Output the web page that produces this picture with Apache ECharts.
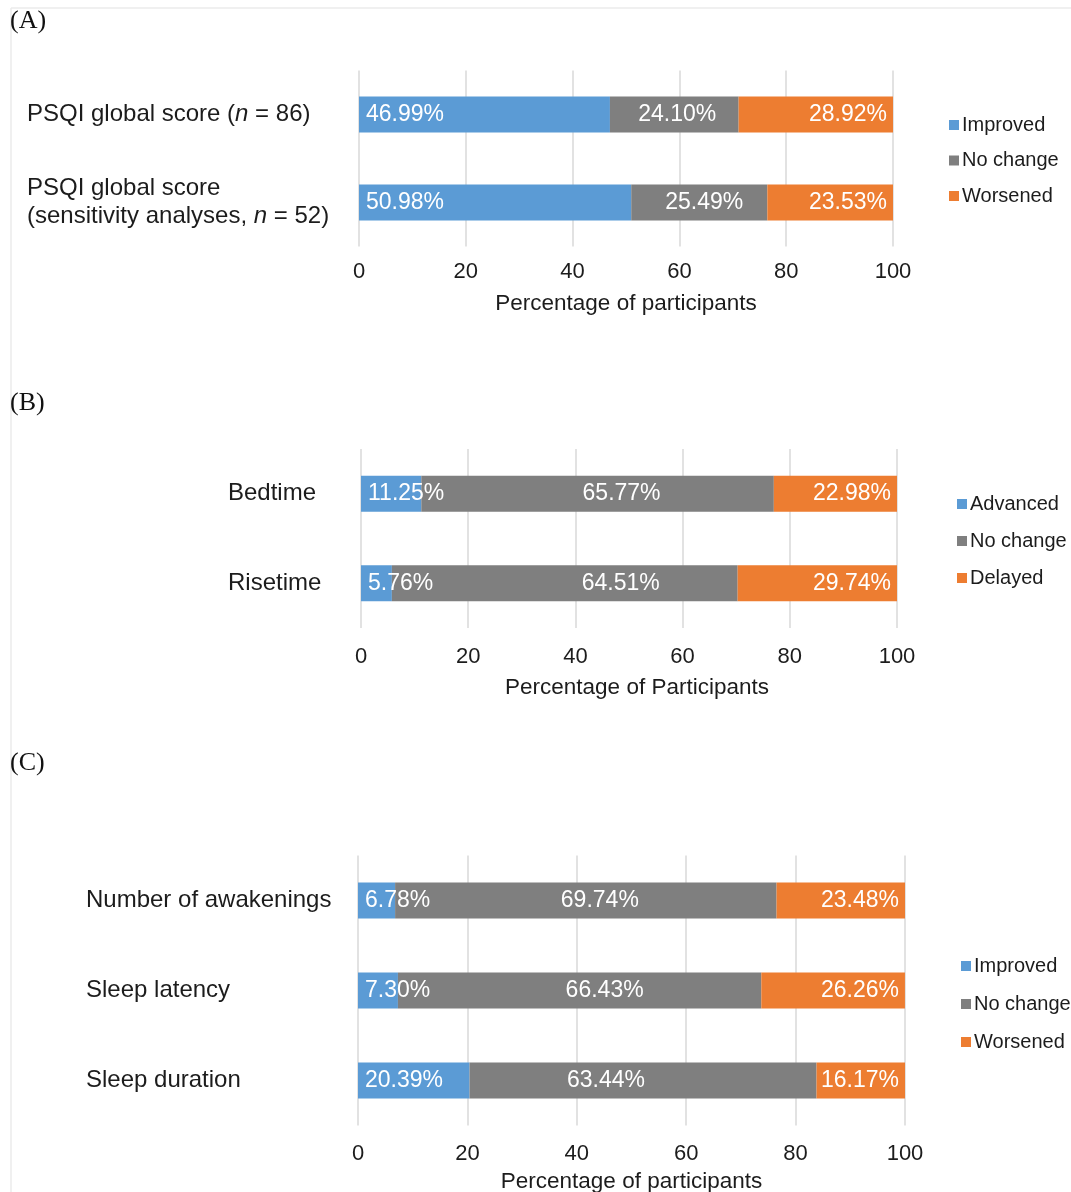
<!DOCTYPE html>
<html>
<head>
<meta charset="utf-8">
<script src="https://cdn.jsdelivr.net/npm/echarts@6/dist/echarts.min.js"></script>
<style>
  html, body { margin: 0; padding: 0; background: #ffffff; }
  #chart { width: 1071px; height: 1192px; }
</style>
</head>
<body>
<div id="chart"></div>
<script>
// ---- Panel A: PSQI global score ----
const catsA = ['PSQI global score (n = 86)', 'PSQI global score\n(sensitivity analyses, n = 52)'];
const improvedA = [46.99, 50.98];
const noChangeA = [24.10, 25.49];
const worsenedA = [28.92, 23.53];

// ---- Panel B: bedtime / risetime ----
const catsB = ['Bedtime', 'Risetime'];
const advancedB = [11.25, 5.76];
const noChangeB = [65.77, 64.51];
const delayedB = [22.98, 29.74];

// ---- Panel C: sleep components ----
const catsC = ['Number of awakenings', 'Sleep latency', 'Sleep duration'];
const improvedC = [6.78, 7.30, 20.39];
const noChangeC = [69.74, 66.43, 63.44];
const worsenedC = [23.48, 26.26, 16.17];

const xTicks = [0, 20, 40, 60, 80, 100];

// label nudges (px) for the middle segment text
const midShiftA = [3, 5];
const midShiftB = [24, 56];
const midShiftC = [14, 25, -37];

const BLUE = '#5b9bd5', GREY = '#7f7f7f', ORANGE = '#ed7d31';
const SANS = '"Liberation Sans", Arial, sans-serif';
const TXT = '#1c1c1c';

const panels = [
  { cats: catsA, vals: [improvedA, noChangeA, worsenedA], names: ['Improved', 'No change', 'Worsened'],
    shift: midShiftA, grid: { left: 359, width: 534, top: 70.5, height: 176 }, labelMargin: 332,
    tickMargin: 14, axisName: 'Percentage of participants', nameGap: 46, namePad: 0,
    legend: { left: 944, top: 110, gap: 15.5 } },
  { cats: catsB, vals: [advancedB, noChangeB, delayedB], names: ['Advanced', 'No change', 'Delayed'],
    shift: midShiftB, grid: { left: 361, width: 536, top: 449, height: 179 }, labelMargin: 133,
    tickMargin: 18, axisName: 'Percentage of Participants', nameGap: 48, namePad: 16,
    legend: { left: 952, top: 489, gap: 17 } },
  { cats: catsC, vals: [improvedC, noChangeC, worsenedC], names: ['Improved', 'No change', 'Worsened'],
    shift: midShiftC, grid: { left: 358, width: 547, top: 855.5, height: 270 }, labelMargin: 272,
    tickMargin: 17, axisName: 'Percentage of participants', nameGap: 45, namePad: 0,
    legend: { left: 956, top: 951, gap: 18 } }
];

const pct = p => p.value.toFixed(2) + '%';

const grids = [], xAxes = [], yAxes = [], series = [], legends = [];
panels.forEach((pn, i) => {
  grids.push(Object.assign({ containLabel: false, outerBoundsMode: 'none' }, pn.grid));
  xAxes.push({
    type: 'value', gridIndex: i, min: 0, max: 100, interval: 20,
    axisLine: { show: false }, axisTick: { show: false },
    splitLine: { show: true, lineStyle: { color: '#d9d9d9', width: 1.5 } },
    axisLabel: {
      margin: pn.tickMargin, fontSize: 22, color: TXT, fontFamily: SANS,
      formatter: v => (xTicks.indexOf(v) >= 0 ? String(v) : '')
    },
    name: pn.axisName, nameLocation: 'middle', nameGap: pn.nameGap,
    nameTextStyle: { fontSize: 22.5, color: TXT, fontFamily: SANS, padding: [0, 0, 0, pn.namePad] }
  });
  yAxes.push({
    type: 'category', gridIndex: i, data: pn.cats, inverse: true,
    axisLine: { show: false }, axisTick: { show: false }, splitLine: { show: false },
    axisLabel: {
      align: 'left', margin: pn.labelMargin, fontSize: 24, color: TXT, fontFamily: SANS,
      lineHeight: 28,
      formatter: v => v.replace(/\bn =/g, '{i|n} ='),
      rich: { i: { fontStyle: 'italic', fontSize: 24, color: TXT, fontFamily: SANS } }
    }
  });
  const colors = [BLUE, GREY, ORANGE];
  const stackId = 'stack' + i;
  pn.vals.forEach((arr, k) => {
    const baseLabel = { show: true, color: '#ffffff', fontSize: 23, fontFamily: SANS, formatter: pct };
    let data;
    if (k === 0) {
      Object.assign(baseLabel, { position: 'insideLeft', distance: 7 });
      data = arr.slice();
    } else if (k === 2) {
      Object.assign(baseLabel, { position: 'insideRight', distance: 6 });
      data = arr.slice();
    } else {
      baseLabel.position = 'inside';
      data = arr.map((v, j) => ({ value: v, label: { offset: [pn.shift[j], 0] } }));
    }
    series.push({
      type: 'bar', name: pn.names[k], xAxisIndex: i, yAxisIndex: i, stack: stackId,
      barWidth: 36, data: data, itemStyle: { color: colors[k] }, label: baseLabel,
      emphasis: { disabled: true }, animation: false
    });
  });
  legends.push({
    data: pn.names, orient: 'vertical', left: pn.legend.left, top: pn.legend.top,
    itemGap: pn.legend.gap, itemWidth: 10, itemHeight: 10, icon: 'rect',
    textStyle: { fontSize: 20, color: TXT, fontFamily: SANS, lineHeight: 20, padding: [0, 0, 0, -2] },
    selectedMode: false
  });
});

const chart = echarts.init(document.getElementById('chart'), null, { renderer: 'canvas' });
chart.setOption({
  backgroundColor: '#ffffff',
  animation: false,
  grid: grids,
  xAxis: xAxes,
  yAxis: yAxes,
  legend: legends,
  series: series,
  graphic: [
    { type: 'line', shape: { x1: 11, y1: 8, x2: 1071, y2: 8 }, style: { stroke: '#ebebeb', lineWidth: 1.5 } },
    { type: 'line', shape: { x1: 11, y1: 8, x2: 11, y2: 1192 }, style: { stroke: '#ebebeb', lineWidth: 1.5 } },
    { type: 'text', left: 10, top: 8, style: { text: '(A)', font: '26px "Liberation Serif", "Times New Roman", serif', fill: '#111' } },
    { type: 'text', left: 10, top: 390, style: { text: '(B)', font: '26px "Liberation Serif", "Times New Roman", serif', fill: '#111' } },
    { type: 'text', left: 10, top: 750, style: { text: '(C)', font: '26px "Liberation Serif", "Times New Roman", serif', fill: '#111' } }
  ]
});
</script>
</body>
</html>
